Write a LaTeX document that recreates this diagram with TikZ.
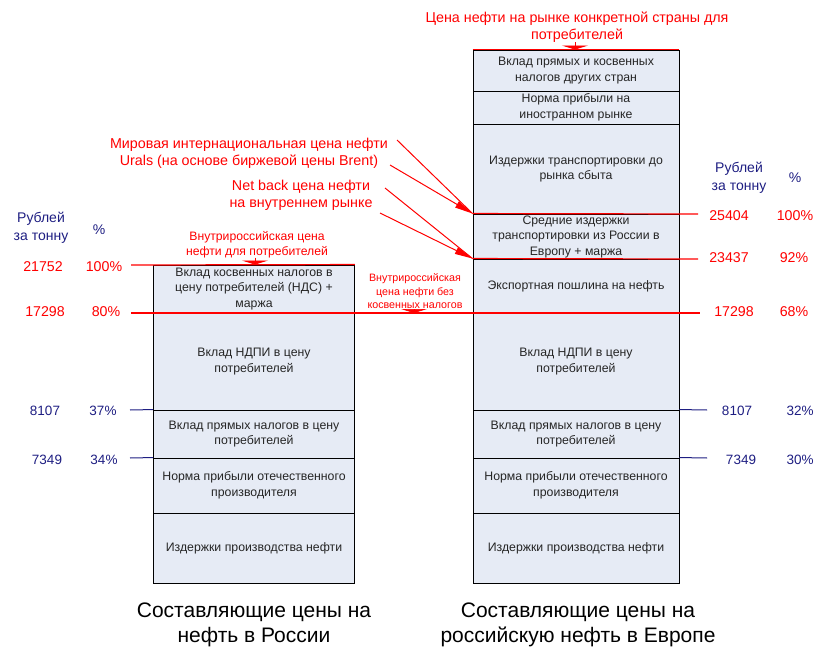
\documentclass[tikz,border=0pt]{standalone}
\usepackage{fontspec}
\setmainfont{Liberation Sans}
\usetikzlibrary{arrows.meta}
\definecolor{boxfill}{RGB}{230,235,245}
\definecolor{navy}{RGB}{30,30,130}
\definecolor{ored}{RGB}{255,0,0}
\begin{document}
\begin{tikzpicture}[x=1pt,y=-1pt,
 seg/.style={draw=black, line width=0.9pt, fill=boxfill, inner sep=0pt, align=center,
   font=\fontsize{12.3}{15.5}\selectfont, text=black!85},
 lseg/.style={seg, minimum width=201pt},
 rseg/.style={seg, minimum width=206pt},
 redtxt/.style={text=ored, align=center, font=\fontsize{14.3}{17}\selectfont, inner sep=0pt},
 smallred/.style={text=ored, align=center, font=\fontsize{12.2}{14.5}\selectfont, inner sep=0pt},
 midred/.style={text=ored, align=center, font=\fontsize{10.7}{13.5}\selectfont, inner sep=0pt},
 rnum/.style={text=ored, font=\fontsize{14.2}{16}\selectfont, inner sep=0pt},
 bnum/.style={text=navy, font=\fontsize{13.5}{16}\selectfont, inner sep=0pt},
 bhead/.style={text=navy, align=center, font=\fontsize{14}{18}\selectfont, inner sep=0pt},
 rline/.style={draw=ored, line width=1.2pt},
 nline/.style={draw=navy, line width=1pt},
 capt/.style={font=\fontsize{21}{25}\selectfont, align=center, inner sep=0pt},
 smalltip/.style={draw=ored, line width=0.6pt, -{Triangle[width=26pt,length=4pt]}},
 bigtip/.style={draw=ored, line width=1pt, -{Triangle[width=7pt,length=18pt]}},
]
\useasboundingbox (0,0) rectangle (816,652);

% ---------- left column ----------
\node[lseg, minimum height=48pt] (L1) at (254,289) {Вклад косвенных налогов в\\цену потребителей (НДС) +\\маржа};
\node[lseg, minimum height=97pt] (L2) at (254,361.5) {Вклад НДПИ в цену\\потребителей};
\node[lseg, minimum height=48pt] (L3) at (254,434) {Вклад прямых налогов в цену\\потребителей};
\node[lseg, minimum height=55pt] (L4) at (254,485.5) {Норма прибыли отечественного\\производителя};
\node[lseg, minimum height=70pt] (L5) at (254,548) {Издержки производства нефти};

% ---------- right column ----------
\node[rseg, minimum height=41pt] (R1) at (576,70.5) {Вклад прямых и косвенных\\налогов других стран};
\node[rseg, minimum height=33pt] (R2) at (576,107.5) {Норма прибыли на\\иностранном рынке};
\node[rseg, minimum height=90pt] (R3) at (576,169) {Издержки транспортировки до\\рынка сбыта};
\node[rseg, minimum height=45pt] (R4) at (576,236.5) {Средние издержки\\транспортировки из России в\\Европу + маржа};
\node[rseg, minimum height=54pt] (R5) at (576,286) {Экспортная пошлина на нефть};
\node[rseg, minimum height=97pt] (R6) at (576,361.5) {Вклад НДПИ в цену\\потребителей};
\node[rseg, minimum height=48pt] (R7) at (576,434) {Вклад прямых налогов в цену\\потребителей};
\node[rseg, minimum height=55pt] (R8) at (576,485.5) {Норма прибыли отечественного\\производителя};
\node[rseg, minimum height=70pt] (R9) at (576,548) {Издержки производства нефти};

% ---------- level line end points ----------
\coordinate (a265) at (131,265);
\coordinate (a313) at (131,313);
\coordinate (b313) at (700,313);
\coordinate (b214) at (698,214);
\coordinate (b259) at (698,259);
\coordinate (a410) at (130,410);
\coordinate (a458) at (130,458);
\coordinate (b410) at (707,410);
\coordinate (b458) at (707,458);

\draw[rline] (a265) -- (L1.north east);
\draw[rline] (a313) -- (b313);
\draw[rline] (R4.north west) -- (b214);
\draw[rline] (R5.north west) -- (b259);
\draw[rline] (R1.north west) -- (R1.north east);
\draw[nline] (a410) -- (L3.north west);
\draw[nline] (a458) -- (L4.north west);
\draw[nline] (R7.north east) -- (b410);
\draw[nline] (R8.north east) -- (b458);

% ---------- left labels ----------
\node[bhead] (hl1) at (41,228) {Рублей\\за тонну};
\node[bhead] (hl2) at (99,230) {\%};
\node[rnum] (nl1) at (43,267) {21752};
\node[rnum] (pl1) at (104,267) {100\%};
\node[rnum] (nl2) at (45,312) {17298};
\node[rnum] (pl2) at (106,312) {80\%};
\node[bnum] (nl3) at (45,411) {8107};
\node[bnum] (pl3) at (103,411) {37\%};
\node[bnum] (nl4) at (47,460) {7349};
\node[bnum] (pl4) at (104,460) {34\%};

% ---------- right labels ----------
\node[bhead] (hr1) at (739,178) {Рублей\\за тонну};
\node[bhead] (hr2) at (795,178) {\%};
\node[rnum] (nr1) at (729,216) {25404};
\node[rnum] (pr1) at (795,216) {100\%};
\node[rnum] (nr2) at (729,258) {23437};
\node[rnum] (pr2) at (794,258) {92\%};
\node[rnum] (nr3) at (734,312) {17298};
\node[rnum] (pr3) at (794,312) {68\%};
\node[bnum] (nr4) at (737,411) {8107};
\node[bnum] (pr4) at (800,411) {32\%};
\node[bnum] (nr5) at (741,460) {7349};
\node[bnum] (pr5) at (800,460) {30\%};

% ---------- red annotations ----------
\node[redtxt] (tTop) at (577,27) {Цена нефти на рынке конкретной страны для\\потребителей};
\node[smallred] (tLin) at (257,244.5) {Внутрироссийская цена\\нефти для потребителей};
\node[midred] (tMid) at (415,291.5) {Внутрироссийская\\цена нефти без\\косвенных налогов};
\node[redtxt] (tWorld) at (249,153.5) {Мировая интернациональная цена нефти\\Urals (на основе биржевой цены Brent)};
\node[redtxt] (tNet) at (301,195) {Net back цена нефти\\на внутреннем рынке};

\draw[smalltip] (tTop.south -| 575,0) -- (R1.north -| 575,0);
\draw[smalltip] (tLin.south -| 255,0) -- (L1.north -| 255,0);
\draw[smalltip] (tMid.south -| 414,0) -- (b313 -| 414,0);

\coordinate (w1) at (397,140);
\coordinate (w2) at (390,165);
\coordinate (n1) at (385,188);
\coordinate (n2) at (380,213);
\draw[draw=ored, line width=1pt] (w1) -- (R4.north west);
\draw[bigtip] (w2) -- (R4.north west);
\draw[draw=ored, line width=1pt] (n1) -- (R5.north west);
\draw[bigtip] (n2) -- (R5.north west);

% ---------- captions ----------
\node[capt] (cL) at (254,624.5) {Составляющие цены на\\нефть в России};
\node[capt] (cR) at (578,624.5) {Составляющие цены на\\российскую нефть в Европе};
\end{tikzpicture}
\end{document}
